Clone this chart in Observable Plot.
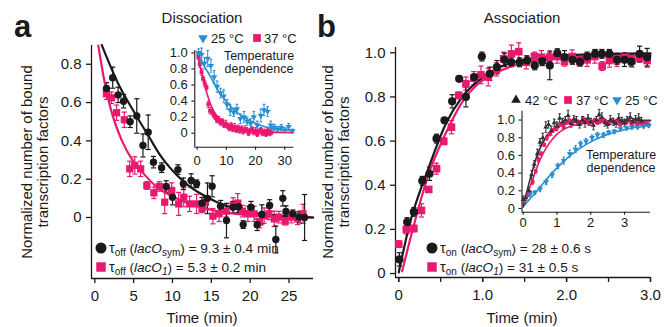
<!DOCTYPE html>
<html><head><meta charset="utf-8">
<script src="https://cdn.jsdelivr.net/npm/d3@7"></script>
<script src="https://cdn.jsdelivr.net/npm/@observablehq/plot@0.6"></script>
<style>
body{margin:0;background:#fff;}
#chart{position:relative;width:671px;height:327px;overflow:hidden;background:#fff;}
#chart svg{position:absolute;}
</style></head><body><div id="chart"></div>
<script>
const FONT = "'Liberation Sans', Arial, Helvetica, sans-serif";
const PINK = "#e8196f", BLUE = "#2a8fd0", BLACK = "#1a1a1a", GREY42 = "#333333";

// ---------- Panel a (dissociation) ----------
const aSymT = [1.5,2.3,3.0,3.7,4.55,5.4,6.2,6.87,7.55,8.6,9.19,10.0,10.7,11.4,12.4,13.1,13.8,14.5,15.1,16.2,16.95,17.8,18.5,19.1,20.1,20.9,21.5,22.5,23.3,24.2,24.6,25.5,26.3,27.0];
const aSymY = [0.674,0.73,0.64,0.607,0.50,0.53,0.376,0.445,0.289,0.26,0.162,0.106,0.25,0.176,0.193,0.176,0.075,0.10,0.163,0.059,-0.016,0.054,0.057,-0.037,0.054,-0.038,0.016,0.063,-0.115,0.10,0.031,0.019,0.002,0.0];
const aSymE = [0.03,0.055,0.04,0.035,0.03,0.09,0.06,0.09,0.03,0.025,0.03,0.04,0.025,0.03,0.035,0.02,0.03,0.08,0.055,0.03,0.09,0.03,0.03,0.02,0.03,0.03,0.05,0.03,0.07,0.04,0.03,0.02,0.03,0.12];
const aO1T = [1.5,2.15,2.8,3.8,4.5,5.15,5.9,6.7,7.6,8.3,9.0,9.9,10.8,11.45,12.2,13.1,13.8,14.25,15.2,16.0,16.9,17.8,18.4,19.0,19.7,20.5,21.2,21.8,22.4,23.1,23.7,24.5,25.3,26.1,26.8];
const aO1Y = [0.646,0.625,0.547,0.51,0.254,0.272,0.254,0.167,0.129,0.162,0.08,0.141,0.071,0.106,0.071,0.071,0.045,0.08,0.007,0.019,0.033,0.063,0.075,0.033,0.019,0.019,-0.024,0.01,0.019,-0.007,0.002,-0.019,0.002,-0.007,0.019];
const aO1E = [0.03,0.03,0.04,0.04,0.04,0.045,0.04,0.02,0.03,0.025,0.06,0.04,0.06,0.05,0.04,0.05,0.02,0.03,0.04,0.04,0.03,0.04,0.05,0.03,0.04,0.04,0.03,0.04,0.03,0.04,0.03,0.02,0.03,0.03,0.05];
const aSymFitT = [0.9,3,5,7,8.5,10,11.5,13.6,15.75,17.9,20,22.2,25,28.1];
const aSymFitY = [0.9,0.70,0.555,0.42,0.32,0.245,0.185,0.125,0.08,0.048,0.028,0.015,0.006,0.0];
const aO1FitT = [0.45,1.2,2,3.5,5,6.3,8,10.2,13.6,17.9,22.2,28.1];
const aO1FitY = [0.898,0.72,0.575,0.40,0.29,0.228,0.158,0.106,0.054,0.02,0.006,0.0];
const aXTicks = [0,5,10,15,20,25];
const aYTicks = [0,0.2,0.4,0.6,0.8];

// inset a (temperature dependence of dissociation)
const ia25T = [0.5,1.5,2.5,3.6,4.7,5.8,6.8,8.0,9.1,10.2,11.3,12.5,13.6,14.8,16.0,17.1,18.3,19.4,20.6,21.8,22.9,24.1,25.2,26.4,27.6,28.8,30.0,31.3,32.6];
const ia25Y = [1.0,0.98,0.87,0.93,0.84,0.7,0.58,0.5,0.46,0.36,0.29,0.26,0.3,0.18,0.2,0.15,0.12,0.2,0.1,0.22,0.29,0.27,0.1,0.07,0.05,0.07,0.04,0.08,0.03];
const ia25E = [0.05,0.08,0.07,0.1,0.08,0.08,0.07,0.06,0.08,0.06,0.07,0.05,0.06,0.06,0.07,0.05,0.06,0.07,0.05,0.08,0.07,0.06,0.05,0.04,0.03,0.04,0.03,0.04,0.02];
const ia37T = [0.4,0.9,1.5,2.0,2.6,3.2,3.8,4.4,5.0,5.6,6.2,6.8,7.4,8.0,8.6,9.2,9.8,10.4,11.0,11.6,12.2,12.8,13.4,14.0,14.6,15.2,15.8,16.4,17.0,17.6,18.2,18.8,19.4,20.0,20.6,21.2,21.8,22.4,23.0,23.6,24.2,24.8,25.4];
const ia37Y = [0.95,0.86,0.76,0.68,0.62,0.57,0.36,0.28,0.27,0.23,0.2,0.16,0.17,0.13,0.15,0.1,0.12,0.09,0.06,0.1,0.05,0.08,0.04,0.07,0.03,0.06,0.02,0.05,0.04,0.0,0.03,0.05,0.01,0.03,-0.01,0.02,0.04,0.0,0.02,-0.01,0.03,0.0,0.01];
const ia37E = [0.03,0.04,0.04,0.03,0.04,0.03,0.04,0.04,0.03,0.03,0.03,0.03,0.04,0.03,0.03,0.03,0.04,0.03,0.03,0.03,0.03,0.04,0.03,0.03,0.03,0.03,0.03,0.04,0.03,0.03,0.03,0.03,0.03,0.04,0.03,0.03,0.03,0.03,0.03,0.03,0.03,0.03,0.03];
const ia25FitT = [0,2,4.45,7,10.1,13,15.9,18.7,21.6,24.5,27.3,30,33];
const ia25FitY = [1.0,0.86,0.71,0.54,0.39,0.28,0.2,0.145,0.1,0.07,0.05,0.04,0.03];
const ia37FitT = [0,1,2.3,3.3,4.5,5.6,6.85,8.5,10.1,12.5,15,18.3,22,26,33];
const ia37FitY = [1.0,0.83,0.65,0.5,0.37,0.28,0.21,0.15,0.11,0.07,0.045,0.03,0.018,0.01,0.008];
const iaXTicks = [0,10,20,30];
const iYTicks = [0,0.2,0.4,0.6,0.8,1.0];

// ---------- Panel b (association) ----------
const bSymT = [0.008,0.1,0.18,0.28,0.366,0.45,0.545,0.636,0.72,0.80,0.9,0.99,1.085,1.17,1.26,1.34,1.44,1.53,1.62,1.71,1.80,1.89,1.975,2.07,2.16,2.245,2.34,2.42,2.51,2.6,2.69,2.77,2.87,2.96];
const bSymY = [0.064,0.233,0.279,0.42,0.452,0.611,0.694,0.78,0.882,0.80,0.89,0.983,0.905,0.935,0.968,0.957,0.957,0.965,0.943,0.962,0.943,0.998,0.98,0.968,0.96,0.983,0.995,0.995,0.995,0.968,0.968,0.96,0.995,0.98];
const bSymE = [0.03,0.02,0.02,0.02,0.03,0.02,0.012,0.03,0.012,0.045,0.012,0.02,0.03,0.03,0.03,0.02,0.02,0.02,0.02,0.02,0.065,0.02,0.03,0.02,0.02,0.02,0.02,0.02,0.02,0.02,0.03,0.02,0.035,0.04];
const bO1T = [0.0,0.09,0.18,0.27,0.357,0.45,0.536,0.628,0.715,0.80,0.894,0.98,1.066,1.165,1.25,1.343,1.43,1.52,1.617,1.70,1.796,1.888,1.975,2.067,2.157,2.245,2.336,2.424,2.51,2.6,2.694,2.78,2.87,2.96];
const bO1Y = [0.133,0.199,0.204,0.286,0.381,0.475,0.599,0.663,0.807,0.86,0.885,0.90,0.89,0.925,0.973,0.995,1.005,0.957,0.983,0.98,0.98,0.983,0.96,0.983,0.96,0.968,0.983,0.94,0.965,0.968,0.98,0.965,0.977,0.965];
const bO1E = [0.015,0.02,0.015,0.03,0.012,0.025,0.015,0.03,0.015,0.03,0.03,0.04,0.04,0.03,0.03,0.04,0.04,0.03,0.02,0.03,0.02,0.03,0.02,0.03,0.02,0.03,0.03,0.02,0.03,0.03,0.02,0.03,0.02,0.03];
const bSymFitT = [0,0.12,0.357,0.557,0.756,0.954,1.2,1.63,2.03,2.5,3.0];
const bSymFitY = [0.005,0.21,0.48,0.675,0.8,0.875,0.935,0.975,0.99,0.995,0.997];
const bO1FitT = [0.04,0.16,0.357,0.557,0.756,0.954,1.15,1.63,2.03,2.5,3.0];
const bO1FitY = [0.01,0.19,0.452,0.633,0.777,0.862,0.908,0.965,0.98,0.985,0.988];
const bXTicks = [0,1,2,3];
const bXMinor = [0,0.5,1,1.5,2,2.5,3];
const bYTicks = [0,0.2,0.4,0.6,0.8,1.0];

// inset b (temperature dependence of association)
const ib42T = [0.0,0.08,0.17,0.25,0.33,0.42,0.5,0.58,0.67,0.75,0.83,0.92,1.0,1.08,1.17,1.25,1.33,1.42,1.5,1.58,1.67,1.75,1.83,1.92,2.0,2.08,2.17,2.25,2.33,2.42,2.5,2.58,2.67,2.75,2.83,2.92,3.0,3.08,3.17,3.25,3.33,3.42,3.5];
const ib42Y = [0.1,0.12,0.2,0.38,0.5,0.62,0.75,0.8,0.92,0.95,0.88,0.97,0.93,1.02,0.98,1.0,1.05,0.96,1.01,0.99,0.95,1.0,0.97,1.02,0.98,0.94,1.0,1.06,1.03,0.97,0.95,1.0,0.98,0.96,1.02,0.99,0.97,1.0,1.03,0.98,1.01,1.02,0.99];
const ib42E = [0.04,0.03,0.04,0.05,0.04,0.05,0.04,0.05,0.06,0.04,0.05,0.04,0.05,0.05,0.04,0.04,0.06,0.04,0.04,0.05,0.04,0.04,0.05,0.04,0.04,0.05,0.04,0.06,0.05,0.04,0.04,0.05,0.04,0.04,0.05,0.04,0.04,0.04,0.05,0.04,0.04,0.05,0.04];
const ib37T = [0.03,0.12,0.2,0.28,0.37,0.45,0.53,0.62,0.7,0.78,0.87,0.95,1.03,1.12,1.2,1.28,1.37,1.45,1.53,1.62,1.7,1.78,1.87,1.95,2.03,2.12,2.2,2.28,2.37,2.45,2.53,2.62,2.7,2.78,2.87,2.95,3.03,3.12,3.2,3.28,3.37,3.45,3.53,3.62,3.7];
const ib37Y = [0.08,0.15,0.18,0.3,0.42,0.55,0.62,0.72,0.8,0.84,0.88,0.9,0.93,0.95,0.92,0.97,0.99,0.96,1.0,0.98,0.97,1.01,0.99,0.96,0.98,1.0,0.97,0.99,1.0,0.98,0.96,1.0,0.97,0.99,0.95,0.98,0.97,1.0,0.96,0.98,0.95,0.97,0.96,0.97,0.95];
const ib37E = [0.02,0.02,0.02,0.03,0.02,0.03,0.02,0.02,0.03,0.02,0.02,0.02,0.03,0.02,0.02,0.02,0.03,0.02,0.02,0.02,0.02,0.03,0.02,0.02,0.02,0.02,0.02,0.03,0.02,0.02,0.02,0.02,0.02,0.02,0.03,0.02,0.02,0.02,0.02,0.02,0.02,0.02,0.02,0.02,0.02];
const ib25T = [0.03,0.2,0.35,0.5,0.68,0.86,1.03,1.2,1.38,1.55,1.7,1.86,2.04,2.2,2.38,2.53,2.7,2.88,3.06,3.22,3.39,3.57,3.72];
const ib25Y = [0.1,0.16,0.18,0.22,0.3,0.38,0.48,0.54,0.62,0.67,0.73,0.76,0.8,0.83,0.83,0.86,0.87,0.9,0.91,0.92,0.92,0.93,0.94];
const ib25E = [0.02,0.02,0.02,0.03,0.03,0.03,0.03,0.04,0.04,0.04,0.03,0.03,0.03,0.03,0.03,0.02,0.02,0.02,0.02,0.02,0.02,0.02,0.02];
const ib42FitT = [0,0.22,0.41,0.71,1.1,1.5,2.2,3.0,3.77];
const ib42FitY = [0.02,0.355,0.6,0.826,0.94,0.975,0.99,0.995,0.997];
const ib37FitT = [0,0.27,0.51,0.9,1.4,2.0,3.0,3.77];
const ib37FitY = [0.02,0.317,0.56,0.8,0.93,0.972,0.985,0.99];
const ib25FitT = [0,0.41,0.9,1.4,1.89,2.38,2.88,3.3,3.77];
const ib25FitY = [0.02,0.2,0.42,0.6,0.73,0.82,0.88,0.915,0.94];
const ibXTicks = [0,1,2,3];

// ---------- helpers ----------
const rows = (t, y, e) => t.map((d, i) => ({t: d, y: y[i], e: e ? e[i] : 0}));
const cap = {draw(ctx, size) { const w = Math.sqrt(size / Math.PI); ctx.moveTo(-w, 0); ctx.lineTo(w, 0); }};
const fmt1 = d => d === 0 ? "0" : d.toFixed(1);
function errMarks(data, color, capR, sw) {
  return [
    Plot.ruleX(data, {x: "t", y1: d => d.y - d.e, y2: d => d.y + d.e, stroke: color, strokeWidth: sw}),
    Plot.dot(data, {x: "t", y: d => d.y - d.e, symbol: cap, r: capR, stroke: color, strokeWidth: sw, fill: "none"}),
    Plot.dot(data, {x: "t", y: d => d.y + d.e, symbol: cap, r: capR, stroke: color, strokeWidth: sw, fill: "none"})
  ];
}
const baseStyle = {fontFamily: FONT, fontSize: "15px", color: "#1a1a1a", background: "transparent", overflow: "visible"};
const chart = document.getElementById("chart");
function place(svg, left, top) { svg.style.position = "absolute"; svg.style.left = left + "px"; svg.style.top = top + "px"; chart.appendChild(svg); }

// ---------- main a ----------
const axDom = [-0.425, 28.15], ayDom = [-0.3185, 0.898];
const aSym = rows(aSymT, aSymY, aSymE), aO1 = rows(aO1T, aO1Y, aO1E);
place(Plot.plot({
  width: 335, height: 327, marginLeft: 91, marginRight: 22, marginTop: 45, marginBottom: 49,
  x: {domain: axDom}, y: {domain: ayDom}, style: baseStyle,
  marks: [
    Plot.ruleX([axDom[0]], {stroke: BLACK, strokeWidth: 1.3}),
    Plot.ruleY([ayDom[0]], {stroke: BLACK, strokeWidth: 1.3}),
    Plot.axisX({ticks: aXTicks, tickFormat: d => String(d), tickSize: 5, tickPadding: 7, fontSize: 15, strokeWidth: 1.3, label: null}),
    Plot.axisY({ticks: aYTicks, tickFormat: fmt1, tickSize: 5, tickPadding: 5, fontSize: 15, strokeWidth: 1.3, label: null}),
    ...errMarks(aO1, PINK, 2.6, 1.2),
    ...errMarks(aSym, BLACK, 2.6, 1.2),
    Plot.line(rows(aO1FitT, aO1FitY), {x: "t", y: "y", stroke: PINK, strokeWidth: 2.2, curve: "monotone-x"}),
    Plot.line(rows(aSymFitT, aSymFitY), {x: "t", y: "y", stroke: BLACK, strokeWidth: 2.2, curve: "monotone-x"}),
    Plot.dot(aO1, {x: "t", y: "y", symbol: "square", r: 4.1, fill: PINK}),
    Plot.dot(aSym, {x: "t", y: "y", r: 3.7, fill: BLACK})
  ]
}), 0, 0);

// ---------- main b ----------
const bxDom = [-0.039, 3.0], byDom = [-0.018, 1.024];
const bSym = rows(bSymT, bSymY, bSymE), bO1 = rows(bO1T, bO1Y, bO1E);
place(Plot.plot({
  width: 336, height: 327, marginLeft: 60, marginRight: 21, marginTop: 47, marginBottom: 50,
  x: {domain: bxDom}, y: {domain: byDom}, style: baseStyle,
  marks: [
    Plot.ruleX([bxDom[0]], {stroke: BLACK, strokeWidth: 1.3}),
    Plot.ruleY([byDom[0]], {stroke: BLACK, strokeWidth: 1.3}),
    Plot.axisX({ticks: bXMinor, tickFormat: () => "", tickSize: 5, strokeWidth: 1.3, label: null}),
    Plot.axisX({ticks: bXTicks, tickFormat: fmt1, tickSize: 5, tickPadding: 7, fontSize: 15, strokeWidth: 1.3, label: null}),
    Plot.axisY({ticks: bYTicks, tickFormat: fmt1, tickSize: 5, tickPadding: 5, fontSize: 15, strokeWidth: 1.3, label: null}),
    ...errMarks(bO1, PINK, 2.6, 1.2),
    ...errMarks(bSym, BLACK, 2.6, 1.2),
    Plot.line(rows(bO1FitT, bO1FitY), {x: "t", y: "y", stroke: PINK, strokeWidth: 2.2, curve: "monotone-x"}),
    Plot.line(rows(bSymFitT, bSymFitY), {x: "t", y: "y", stroke: BLACK, strokeWidth: 2.2, curve: "monotone-x"}),
    Plot.dot(bO1, {x: "t", y: "y", symbol: "square", r: 4.3, fill: PINK}),
    Plot.dot(bSym, {x: "t", y: "y", r: 4.1, fill: BLACK})
  ]
}), 335, 0);

// ---------- inset a ----------
const iaxDom = [-0.82, 33.1], iayDom = [-0.174, 1.03];
const ia25 = rows(ia25T, ia25Y, ia25E), ia37 = rows(ia37T, ia37Y, ia37E);
place(Plot.plot({
  width: 140, height: 130, marginLeft: 34.3, marginRight: 6.7, marginTop: 10, marginBottom: 23.3,
  x: {domain: iaxDom}, y: {domain: iayDom}, style: {...baseStyle, fontSize: "13px"},
  marks: [
    Plot.ruleX([iaxDom[0]], {stroke: BLACK, strokeWidth: 1.1}),
    Plot.ruleY([iayDom[0]], {stroke: BLACK, strokeWidth: 1.1}),
    Plot.axisX({ticks: iaXTicks, tickFormat: d => String(d), tickSize: 3, tickPadding: 6, fontSize: 13, strokeWidth: 1.1, label: null}),
    Plot.axisY({ticks: iYTicks, tickFormat: fmt1, tickSize: 3, tickPadding: 4, fontSize: 13, strokeWidth: 1.1, label: null}),
    ...errMarks(ia37, PINK, 1.4, 1),
    ...errMarks(ia25, BLUE, 1.4, 1),
    Plot.line(rows(ia25FitT, ia25FitY), {x: "t", y: "y", stroke: BLUE, strokeWidth: 1.6, curve: "monotone-x"}),
    Plot.line(rows(ia37FitT, ia37FitY), {x: "t", y: "y", stroke: PINK, strokeWidth: 1.6, curve: "monotone-x"}),
    Plot.dot(ia37, {x: "t", y: "y", symbol: "square", r: 2.2, fill: PINK}),
    Plot.dot(ia25, {x: "t", y: "y", symbol: "triangle", rotate: 180, r: 2.3, fill: BLUE})
  ]
}), 160, 40);

// ---------- inset b ----------
const ibxDom = [-0.035, 3.77], ibyDom = [-0.042, 1.10];
const ib42 = rows(ib42T, ib42Y, ib42E), ib37 = rows(ib37T, ib37Y, ib37E), ib25 = rows(ib25T, ib25Y, ib25E);
place(Plot.plot({
  width: 190, height: 140, marginLeft: 41.5, marginRight: 20, marginTop: 15.7, marginBottom: 23.3,
  x: {domain: ibxDom}, y: {domain: ibyDom}, style: {...baseStyle, fontSize: "13px"},
  marks: [
    Plot.ruleX([ibxDom[0]], {stroke: BLACK, strokeWidth: 1.1}),
    Plot.ruleY([ibyDom[0]], {stroke: BLACK, strokeWidth: 1.1}),
    Plot.axisX({ticks: ibXTicks, tickFormat: d => String(d), tickSize: 3, tickPadding: 3, fontSize: 13, strokeWidth: 1.1, label: null}),
    Plot.axisY({ticks: iYTicks, tickFormat: fmt1, tickSize: 3, tickPadding: 4, fontSize: 13, strokeWidth: 1.1, label: null}),
    ...errMarks(ib37, PINK, 1.2, 0.9),
    ...errMarks(ib25, BLUE, 1.3, 1),
    ...errMarks(ib42, GREY42, 1.3, 1),
    Plot.line(rows(ib25FitT, ib25FitY), {x: "t", y: "y", stroke: BLUE, strokeWidth: 1.6, curve: "monotone-x"}),
    Plot.line(rows(ib37FitT, ib37FitY), {x: "t", y: "y", stroke: PINK, strokeWidth: 1.6, curve: "monotone-x"}),
    Plot.line(rows(ib42FitT, ib42FitY), {x: "t", y: "y", stroke: GREY42, strokeWidth: 1.6, curve: "monotone-x"}),
    Plot.dot(ib37, {x: "t", y: "y", symbol: "square", r: 2.1, fill: PINK}),
    Plot.dot(ib25, {x: "t", y: "y", symbol: "triangle", rotate: 180, r: 2.2, fill: BLUE}),
    Plot.dot(ib42, {x: "t", y: "y", symbol: "triangle", r: 1.9, fill: GREY42})
  ]
}), 480, 95);

// ---------- text overlay: titles, labels, legends ----------
const ov = d3.select(chart).append("svg").attr("width", 671).attr("height", 327)
  .style("left", "0px").style("top", "0px").attr("font-family", FONT).attr("fill", BLACK);
const txt = (x, y, s, size, anchor = "start", weight = null) =>
  ov.append("text").attr("x", x).attr("y", y).attr("font-size", size).attr("text-anchor", anchor).attr("font-weight", weight).text(s);

txt(14, 37, "a", 31, "start", "bold");
txt(317, 37, "b", 31, "start", "bold");
txt(202, 23, "Dissociation", 15, "middle");
txt(522, 23, "Association", 15, "middle");
txt(202, 323, "Time (min)", 15, "middle");
txt(522, 323, "Time (min)", 15, "middle");
const yLabel = ["Normalized number of bound", "transcription factors"];
[[32, 48], [333, 349]].forEach(([x1, x2]) => {
  [x1, x2].forEach((x, i) => ov.append("text").attr("transform", `translate(${x},162) rotate(-90)`)
    .attr("text-anchor", "middle").attr("font-size", 15).text(yLabel[i]));
});

function tau(x, y, sub, sub2, rest) {
  const t = ov.append("text").attr("x", x).attr("y", y).attr("font-size", 13.6);
  t.append("tspan").attr("font-size", 14.5).text("τ");
  t.append("tspan").attr("font-size", 10).attr("dy", 3).text(sub);
  t.append("tspan").attr("dy", -3).text(" (");
  t.append("tspan").attr("font-style", "italic").text("lacO");
  t.append("tspan").attr("font-size", 10).attr("dy", 3).attr("font-style", sub2 === "1" ? "italic" : null).text(sub2);
  t.append("tspan").attr("dy", -3).text(rest);
}
const sym = (x, y, type, size, color, rot = 0) =>
  ov.append("path").attr("d", d3.symbol().type(type).size(size)()).attr("fill", color)
    .attr("transform", `translate(${x},${y}) rotate(${rot})`);

sym(101, 248, d3.symbolCircle, 95, BLACK); tau(109, 253, "off", "sym", ") = 9.3 ± 0.4 min");
sym(101, 267, d3.symbolSquare, 90, PINK);  tau(109, 272, "off", "1", ") = 5.3 ± 0.2 min");
sym(432, 248, d3.symbolCircle, 95, BLACK); tau(440, 253, "on", "sym", ") = 28 ± 0.6 s");
sym(432, 267, d3.symbolSquare, 90, PINK);  tau(440, 272, "on", "1", ") = 31 ± 0.5 s");

// inset a legend
sym(203, 38, d3.symbolTriangle, 40, BLUE, 180); txt(211, 42.5, "25 °C", 13);
sym(257, 38, d3.symbolSquare, 60, PINK); txt(264, 42.5, "37 °C", 13);
txt(259, 59.5, "Temperature", 12.5, "middle");
txt(259, 72.5, "dependence", 12.5, "middle");
// inset b legend
sym(516, 100, d3.symbolTriangle, 40, BLACK); txt(525, 104.5, "42 °C", 13);
sym(568, 100, d3.symbolSquare, 60, PINK); txt(576, 104.5, "37 °C", 13);
sym(617, 100, d3.symbolTriangle, 40, BLUE, 180); txt(625, 104.5, "25 °C", 13);
txt(621, 159, "Temperature", 12.5, "middle");
txt(621, 172, "dependence", 12.5, "middle");
</script></body></html>
